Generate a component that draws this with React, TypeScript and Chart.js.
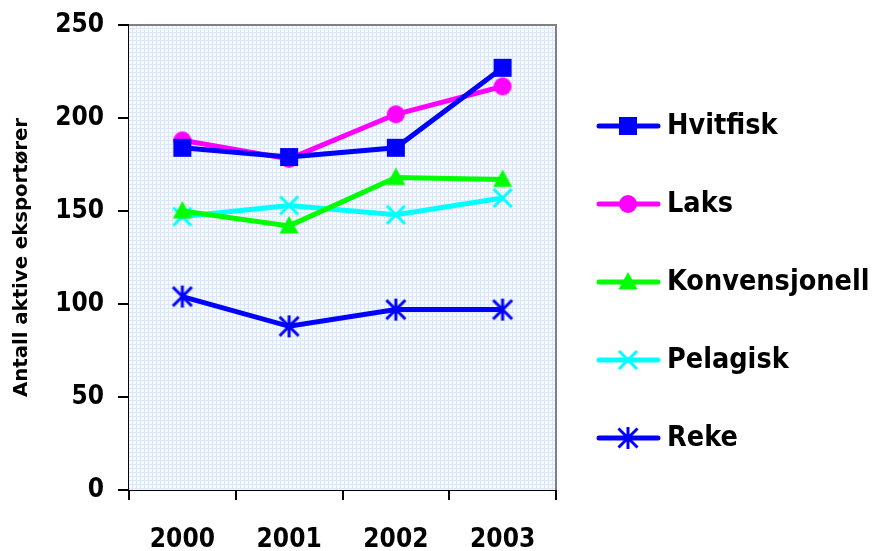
import React, { useEffect, useRef } from "react";
import { Chart, registerables } from "chart.js";

Chart.register(...registerables);

const years = ["2000", "2001", "2002", "2003"];
const hvitfisk = [184, 179, 184, 227];
const laks = [188, 178, 202, 217];
const konvensjonell = [150, 142, 168, 167];
const pelagisk = [147, 153, 148, 157];
const reke = [104, 88, 97, 97];
const seriesNames = ["Hvitfisk", "Laks", "Konvensjonell", "Pelagisk", "Reke"];
const seriesColors = ["#0000FF", "#FF00FF", "#00FF00", "#00FFFF", "#0000FF"];
const markerKinds = ["square", "circle", "triangle", "x", "star"];
const yTitle = "Antall aktive eksportører";

const FONT = "'DejaVu Sans Condensed', 'DejaVu Sans', sans-serif";
const TITLE_FONT = "'DejaVu Sans', sans-serif";

function makeMarker(kind: string, color: string): HTMLCanvasElement {
  const c = document.createElement("canvas");
  c.width = 26;
  c.height = 26;
  const ctx = c.getContext("2d")!;
  const cx = 13, cy = 13;
  ctx.fillStyle = color;
  ctx.strokeStyle = color;
  ctx.lineCap = "butt";
  if (kind === "square") {
    ctx.fillRect(cx - 9, cy - 9, 18, 18);
  } else if (kind === "circle") {
    ctx.beginPath();
    ctx.arc(cx, cy, 9, 0, Math.PI * 2);
    ctx.fill();
  } else if (kind === "triangle") {
    ctx.beginPath();
    ctx.moveTo(cx, cy - 10);
    ctx.lineTo(cx + 9.5, cy + 7.5);
    ctx.lineTo(cx - 9.5, cy + 7.5);
    ctx.closePath();
    ctx.fill();
  } else if (kind === "x") {
    ctx.lineWidth = 3;
    ctx.beginPath();
    ctx.moveTo(cx - 9, cy - 9);
    ctx.lineTo(cx + 9, cy + 9);
    ctx.moveTo(cx + 9, cy - 9);
    ctx.lineTo(cx - 9, cy + 9);
    ctx.stroke();
  } else if (kind === "star") {
    ctx.lineWidth = 3;
    ctx.beginPath();
    ctx.moveTo(cx - 9.5, cy - 9.5);
    ctx.lineTo(cx + 9.5, cy + 9.5);
    ctx.moveTo(cx + 9.5, cy - 9.5);
    ctx.lineTo(cx - 9.5, cy + 9.5);
    ctx.moveTo(cx, cy - 11);
    ctx.lineTo(cx, cy + 11);
    ctx.stroke();
  }
  return c;
}

function makePattern(ctx: CanvasRenderingContext2D) {
  const t = document.createElement("canvas");
  t.width = 4;
  t.height = 4;
  const g = t.getContext("2d")!;
  g.fillStyle = "#f6f9fe";
  g.fillRect(0, 0, 4, 4);
  g.fillStyle = "#dbe8fb";
  g.fillRect(0, 0, 4, 1);
  g.fillRect(0, 0, 1, 4);
  return ctx.createPattern(t, "repeat");
}

export default function App() {
  const ref = useRef<HTMLCanvasElement | null>(null);

  useEffect(() => {
    const canvas = ref.current!;
    const markers = markerKinds.map((k, i) => makeMarker(k, seriesColors[i]));
    const values = [hvitfisk, laks, konvensjonell, pelagisk, reke];

    const bgPlugin = {
      id: "plotBg",
      beforeDatasetsDraw(chart: any) {
        const { ctx, chartArea } = chart;
        const { left, top, right, bottom } = chartArea;
        ctx.save();
        const pat = makePattern(ctx);
        ctx.fillStyle = pat || "#eef4fd";
        ctx.fillRect(left, top, right - left, bottom - top);
        ctx.strokeStyle = "#808080";
        ctx.lineWidth = 2;
        ctx.beginPath();
        ctx.moveTo(left, top);
        ctx.lineTo(right, top);
        ctx.lineTo(right, bottom);
        ctx.stroke();
        ctx.restore();
      },
    };

    const legendPlugin = {
      id: "customLegend",
      afterDraw(chart: any) {
        const { ctx } = chart;
        ctx.save();
        chart.data.datasets.forEach((ds: any, i: number) => {
          const y = 126 + i * 78;
          ctx.strokeStyle = ds.borderColor;
          ctx.lineWidth = 5;
          ctx.lineCap = "round";
          ctx.beginPath();
          ctx.moveTo(599, y);
          ctx.lineTo(658, y);
          ctx.stroke();
          const m = markers[i];
          ctx.drawImage(m, 628 - m.width / 2, y - m.height / 2);
          ctx.fillStyle = "#000";
          ctx.font = `bold 28.5px ${FONT}`;
          ctx.textBaseline = "middle";
          ctx.textAlign = "left";
          ctx.fillText(ds.label, 667, y + 1);
        });
        ctx.restore();
      },
    };

    const chart = new Chart(canvas, {
      type: "line",
      data: {
        labels: years,
        datasets: seriesNames.map((name, i) => ({
          label: name,
          data: values[i],
          borderColor: seriesColors[i],
          backgroundColor: seriesColors[i],
          borderWidth: 5,
          pointStyle: markers[i] as any,
          pointRadius: 10,
          tension: 0,
          fill: false,
        })),
      },
      options: {
        responsive: false,
        animation: false,
        events: [],
        layout: { padding: { left: 0, top: 25, right: 324, bottom: 0 } },
        plugins: {
          legend: { display: false },
          tooltip: { enabled: false },
        },
        scales: {
          x: {
            type: "category",
            offset: true,
            grid: {
              display: true,
              offset: true,
              drawOnChartArea: false,
              drawTicks: true,
              tickLength: 10,
              color: "#000",
              lineWidth: 2,
            },
            border: { display: true, color: "#000", width: 2 },
            ticks: {
              color: "#000",
              font: { family: FONT, size: 26, weight: "bold" },
              padding: 25,
              maxRotation: 0,
            },
            afterFit(scale: any) {
              scale.height = 61;
              scale.paddingLeft = 0;
              scale.paddingRight = 0;
            },
          },
          y: {
            min: 0,
            max: 250,
            grid: {
              display: true,
              drawOnChartArea: false,
              drawTicks: true,
              tickLength: 11,
              color: "#000",
              lineWidth: 2,
            },
            border: { display: true, color: "#000", width: 2 },
            ticks: {
              stepSize: 50,
              color: "#000",
              font: { family: FONT, size: 26, weight: "bold" },
              padding: 14,
            },
            title: {
              display: true,
              text: yTitle,
              color: "#000",
              font: { family: TITLE_FONT, size: 19.7, weight: "bold" },
              padding: { top: 10, bottom: 0 },
            },
            afterFit(scale: any) {
              scale.width = 129;
              scale.paddingTop = 0;
              scale.paddingBottom = 0;
            },
          },
        },
      },
      plugins: [bgPlugin, legendPlugin],
    });

    return () => chart.destroy();
  }, []);

  return (
    <div style={{ position: "absolute", left: 0, top: 0, width: 880, height: 551, background: "#fff" }}>
      <canvas ref={ref} width={880} height={551} style={{ display: "block" }} />
    </div>
  );
}
